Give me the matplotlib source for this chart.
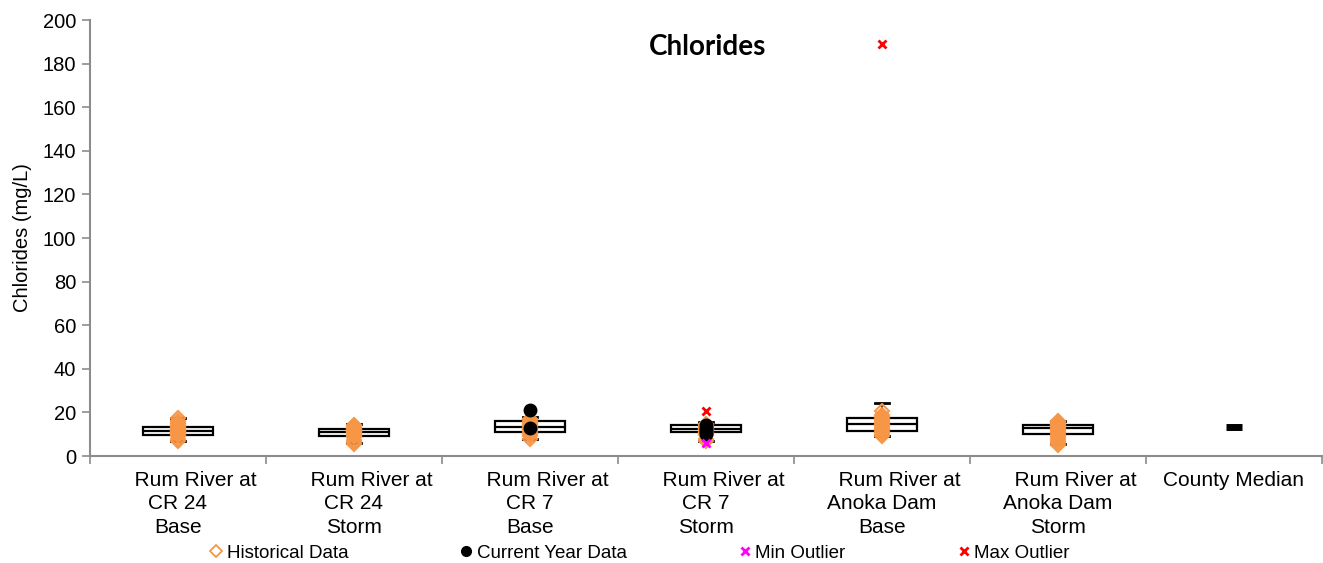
import matplotlib
matplotlib.use("Agg")
import matplotlib.pyplot as plt
from matplotlib.lines import Line2D

# ---- data ----
categories = ["Rum River at\nCR 24\nBase", "Rum River at\nCR 24\nStorm",
              "Rum River at\nCR 7\nBase", "Rum River at\nCR 7\nStorm",
              "Rum River at\nAnoka Dam\nBase", "Rum River at\nAnoka Dam\nStorm",
              "County Median"]

box_q1 = [9.6, 9.3, 11.0, 11.0, 11.5, 10.0]
box_med = [11.5, 11.0, 13.3, 12.6, 14.6, 12.8]
box_q3 = [13.3, 12.3, 16.0, 14.2, 17.3, 14.2]
whisk_lo = [7.0, 5.8, 8.0, 7.0, 9.0, 5.5]
whisk_hi = [17.4, 14.5, 18.0, 15.5, 24.3, 16.0]

historical = [
    [7.0, 8.0, 9.0, 9.5, 10.0, 10.5, 11.0, 11.3, 11.6, 12.0, 12.3, 12.8, 13.2, 13.8, 14.5, 15.3, 16.2, 17.5],
    [5.6, 6.5, 7.5, 8.5, 9.2, 9.8, 10.3, 10.8, 11.2, 11.6, 12.0, 12.4, 13.0, 13.6, 14.3],
    [8.0, 9.0, 10.0, 11.0, 11.8, 12.5, 13.0, 13.5, 14.0, 14.8, 15.5, 16.3, 17.2],
    [7.0, 8.0, 9.5, 10.5, 11.2, 11.8, 12.3, 12.8, 13.3, 14.0, 14.8],
    [9.0, 10.0, 11.0, 11.8, 12.5, 13.2, 14.0, 14.8, 15.5, 16.3, 17.0, 18.0, 19.0, 20.5],
    [5.0, 5.8, 6.8, 7.8, 8.8, 9.8, 10.5, 11.2, 11.8, 12.5, 13.0, 13.6, 14.2, 14.8, 15.5, 16.0],
]
current_year = [[], [], [21.0, 12.8], [10.0, 11.0, 12.0, 13.0, 14.0], [], []]
min_outlier = [[], [], [], [6.0], [], []]
max_outlier = [[], [], [], [20.6], [189.0], []]
county_median = 13.3

yticks = list(range(0, 201, 20))

# ---- style ----
ORANGE = "#F79646"
GRAY = "#8C8C8C"
plt.rcParams['font.family'] = ['Liberation Sans', 'DejaVu Sans']

fig = plt.figure(figsize=(13.23, 5.63), dpi=100)
ax = fig.add_axes([90/1323, 1-456/563, 1232/1323, 436/563])

n = len(categories)
pos = [i + 0.5 for i in range(n)]

stats = []
for i in range(6):
    stats.append(dict(q1=box_q1[i], med=box_med[i], q3=box_q3[i],
                      whislo=whisk_lo[i], whishi=whisk_hi[i], fliers=[]))
ax.bxp(stats, positions=pos[:6], widths=0.4, showfliers=False, patch_artist=True,
       boxprops=dict(facecolor="white", edgecolor="black", linewidth=1.6),
       medianprops=dict(color="black", linewidth=1.6),
       whiskerprops=dict(color="black", linewidth=1.2),
       capprops=dict(color="black", linewidth=2.0), capwidths=0.08, zorder=2)

for i in range(6):
    ax.plot([pos[i]]*len(historical[i]), historical[i], linestyle="none", marker="D",
            markersize=7, markerfacecolor="none", markeredgecolor=ORANGE,
            markeredgewidth=1.5, zorder=3)
    if current_year[i]:
        ax.plot([pos[i]]*len(current_year[i]), current_year[i], linestyle="none",
                marker="o", markersize=9, color="black", zorder=4)
    if min_outlier[i]:
        ax.plot([pos[i]]*len(min_outlier[i]), min_outlier[i], linestyle="none",
                marker="x", markersize=6, markeredgewidth=2, color="#FF00FF", zorder=5)
    if max_outlier[i]:
        ax.plot([pos[i]]*len(max_outlier[i]), max_outlier[i], linestyle="none",
                marker="x", markersize=6, markeredgewidth=2, color="#FF0000", zorder=5)

ax.plot([pos[6]], [county_median], linestyle="none", marker="_", markersize=12,
        markeredgewidth=5, color="black", zorder=4)

ax.set_xlim(0, n)
ax.set_ylim(0, 200)
ax.set_yticks(yticks)
ax.set_yticklabels([str(v) for v in yticks], fontsize=14.5)
ax.set_xticks(range(n + 1))
ax.set_xticklabels([""] * (n + 1))
ax.set_xticks(pos, minor=True)
labels = []
for c in categories:
    parts = c.split("\n")
    if len(parts) > 1:
        parts[0] = "      " + parts[0]
    labels.append("\n".join(parts))
ax.set_xticklabels(labels, minor=True, fontsize=15, linespacing=1.28)
ax.tick_params(axis="x", which="minor", length=0, pad=11)
ax.tick_params(axis="x", which="major", length=6, color=GRAY, width=1.2)
ax.tick_params(axis="y", length=6, color=GRAY, width=1.2, pad=4)
for s in ["top", "right"]:
    ax.spines[s].set_visible(False)
for s in ["left", "bottom"]:
    ax.spines[s].set_color(GRAY)
    ax.spines[s].set_linewidth(1.5)

ax.set_ylabel("Chlorides (mg/L)", fontsize=14.5, labelpad=8)
ax.text(0.5016, 0.938, "Chlorides", transform=ax.transAxes, ha="center", va="center",
        fontsize=20, fontweight="bold", family=["Lato", "DejaVu Sans"])

handles = [
    Line2D([], [], linestyle="none", marker="D", markersize=6, markerfacecolor="none",
           markeredgecolor=ORANGE, markeredgewidth=1.3, label="Historical Data"),
    Line2D([], [], linestyle="none", marker="o", markersize=7, color="black",
           label="Current Year Data"),
    Line2D([], [], linestyle="none", marker="x", markersize=6, markeredgewidth=2,
           color="#FF00FF", label="Min Outlier"),
    Line2D([], [], linestyle="none", marker="x", markersize=6, markeredgewidth=2,
           color="#FF0000", label="Max Outlier"),
]
fig.legend(handles=handles, loc="center", bbox_to_anchor=(640/1323, 1-553/563), ncol=4,
           frameon=False, fontsize=13.5, handlelength=0.6, handletextpad=0.25,
           columnspacing=6.0, borderpad=0, borderaxespad=0)

fig.savefig("out.png", dpi=100)
